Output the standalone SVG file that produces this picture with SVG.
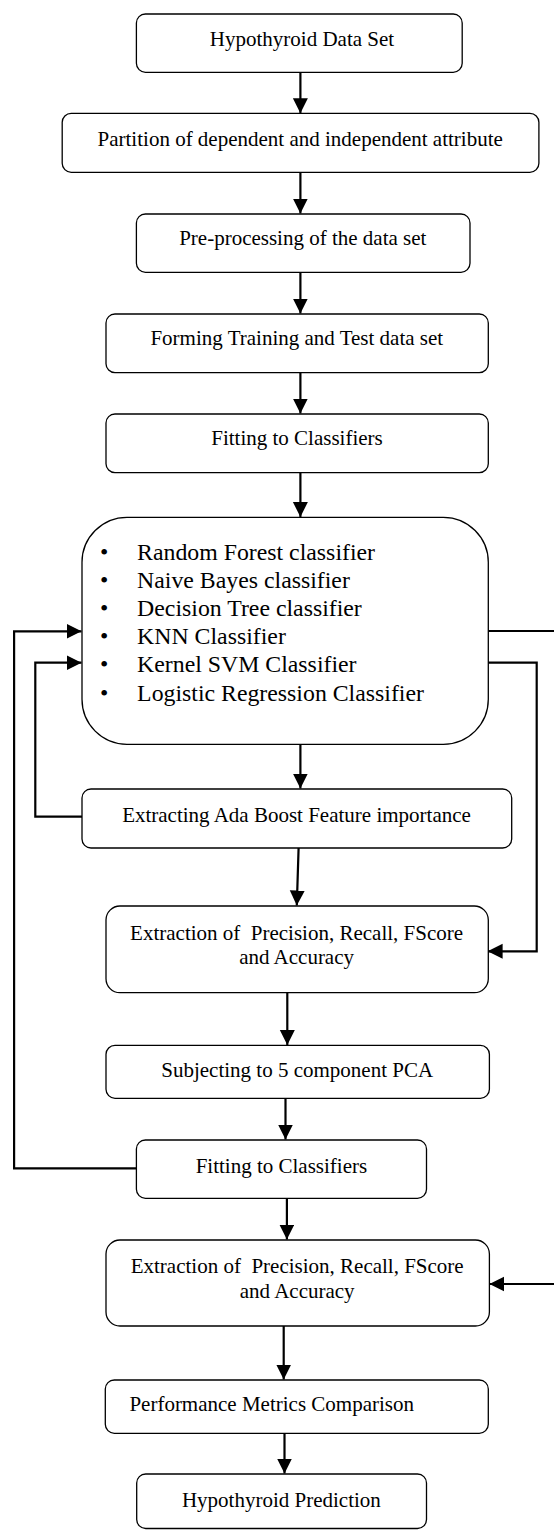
<svg xmlns="http://www.w3.org/2000/svg" width="554" height="1530" viewBox="0 0 554 1530">
<style>
.box{fill:#fff;stroke:#000;stroke-width:1.3}
.t{font-family:"Liberation Serif","Times New Roman",serif;font-size:21px;fill:#000;text-anchor:middle}
.b{font-family:"Liberation Serif","Times New Roman",serif;font-size:23.8px;fill:#000}
.bm{font-family:"Liberation Serif","Times New Roman",serif;font-size:23.8px;fill:#000;text-anchor:middle}
.c{fill:none;stroke:#000;stroke-width:2.2}
</style>
<defs>
<marker id="ah" markerUnits="userSpaceOnUse" markerWidth="16" markerHeight="16" refX="15" refY="7.5" orient="auto">
<path d="M0,0 L15,7.5 L0,15 z" fill="#000"/>
</marker>
</defs>
<rect width="554" height="1530" fill="#fff"/>
<g id="connectors">
<line class="c" x1="300.4" y1="72.3" x2="300.4" y2="113.3" marker-end="url(#ah)"/>
<line class="c" x1="300.4" y1="172.3" x2="300.4" y2="213.5" marker-end="url(#ah)"/>
<line class="c" x1="300.4" y1="272.3" x2="300.4" y2="313.5" marker-end="url(#ah)"/>
<line class="c" x1="300.4" y1="372.7" x2="300.4" y2="413.5" marker-end="url(#ah)"/>
<line class="c" x1="300.4" y1="472.7" x2="300.4" y2="517" marker-end="url(#ah)"/>
<line class="c" x1="300.4" y1="744.3" x2="300.4" y2="788.5" marker-end="url(#ah)"/>
<line class="c" x1="298.6" y1="848" x2="296.8" y2="905.5" marker-end="url(#ah)"/>
<line class="c" x1="287.3" y1="992.7" x2="287.3" y2="1045" marker-end="url(#ah)"/>
<line class="c" x1="285.5" y1="1098.3" x2="285.5" y2="1139.5" marker-end="url(#ah)"/>
<line class="c" x1="286.9" y1="1198.3" x2="286.9" y2="1239.5" marker-end="url(#ah)"/>
<line class="c" x1="283.7" y1="1326" x2="283.7" y2="1379.5" marker-end="url(#ah)"/>
<line class="c" x1="284.5" y1="1433.3" x2="284.5" y2="1473.5" marker-end="url(#ah)"/>
<path class="c" d="M82,816.7 H35.3 V662.7 H81.5" marker-end="url(#ah)"/>
<path class="c" d="M136.4,1168.3 H14.1 V631.3 H81.5" marker-end="url(#ah)"/>
<path class="c" d="M484.5,662.7 H536.7 V951.3 H487.6" marker-end="url(#ah)"/>
<path class="c" d="M488.3,631 H562 V1284 H489.4" marker-end="url(#ah)"/>
</g>
<g id="n1"><rect class="box" x="136.4" y="14" width="325.8" height="58.3" rx="9"/><text class="t" x="302" y="46">Hypothyroid Data Set</text></g>
<g id="n2"><rect class="box" x="62.2" y="113.3" width="476.7" height="59" rx="9"/><text class="t" x="300.2" y="145.7">Partition of dependent and independent attribute</text></g>
<g id="n3"><rect class="box" x="136.4" y="214" width="333.6" height="58.3" rx="9"/><text class="t" x="302.8" y="245">Pre-processing of the data set</text></g>
<g id="n4"><rect class="box" x="106" y="314" width="382.3" height="58.7" rx="9"/><text class="t" x="296.8" y="345">Forming Training and Test data set</text></g>
<g id="n5"><rect class="box" x="106" y="414" width="382.3" height="58.7" rx="9"/><text class="t" x="297" y="445">Fitting to Classifiers</text></g>
<g id="n6"><rect class="box" x="82" y="517.3" width="406.3" height="227" rx="45"/>
<text class="bm" x="104.2" y="560">•</text><text class="b" x="137.1" y="560">Random Forest classifier</text>
<text class="bm" x="104.2" y="588.2">•</text><text class="b" x="137.1" y="588.2">Naive Bayes classifier</text>
<text class="bm" x="104.2" y="616.4">•</text><text class="b" x="137.1" y="616.4">Decision Tree classifier</text>
<text class="bm" x="104.2" y="644.4">•</text><text class="b" x="137.1" y="644.4">KNN Classifier</text>
<text class="bm" x="104.2" y="672.4">•</text><text class="b" x="137.1" y="672.4">Kernel SVM Classifier</text>
<text class="bm" x="104.2" y="700.6">•</text><text class="b" x="137.1" y="700.6">Logistic Regression Classifier</text>
</g>
<g id="n7"><rect class="box" x="82" y="789" width="429.7" height="59" rx="9"/><text class="t" x="296.5" y="821.7">Extracting Ada Boost Feature importance</text></g>
<g id="n8"><rect class="box" x="106" y="906" width="382.3" height="86.7" rx="14"/><text class="t" x="296.6" y="940" xml:space="preserve">Extraction of  Precision, Recall, FScore</text><text class="t" x="296.6" y="964">and Accuracy</text></g>
<g id="n9"><rect class="box" x="106" y="1045.3" width="383.4" height="53" rx="9"/><text class="t" x="297.2" y="1076.7">Subjecting to 5 component PCA</text></g>
<g id="n10"><rect class="box" x="136.4" y="1140" width="290.1" height="58.3" rx="9"/><text class="t" x="281.4" y="1173.3">Fitting to Classifiers</text></g>
<g id="n11"><rect class="box" x="106" y="1240" width="383.4" height="86" rx="14"/><text class="t" x="297.2" y="1273.3" xml:space="preserve">Extraction of  Precision, Recall, FScore</text><text class="t" x="297.2" y="1298.3">and Accuracy</text></g>
<g id="n12"><rect class="box" x="105.3" y="1380" width="383" height="53.3" rx="9"/><text class="t" x="271.7" y="1411">Performance Metrics Comparison</text></g>
<g id="n13"><rect class="box" x="136.7" y="1474" width="289.8" height="54.5" rx="9"/><text class="t" x="281.4" y="1506.7">Hypothyroid Prediction</text></g>
</svg>
